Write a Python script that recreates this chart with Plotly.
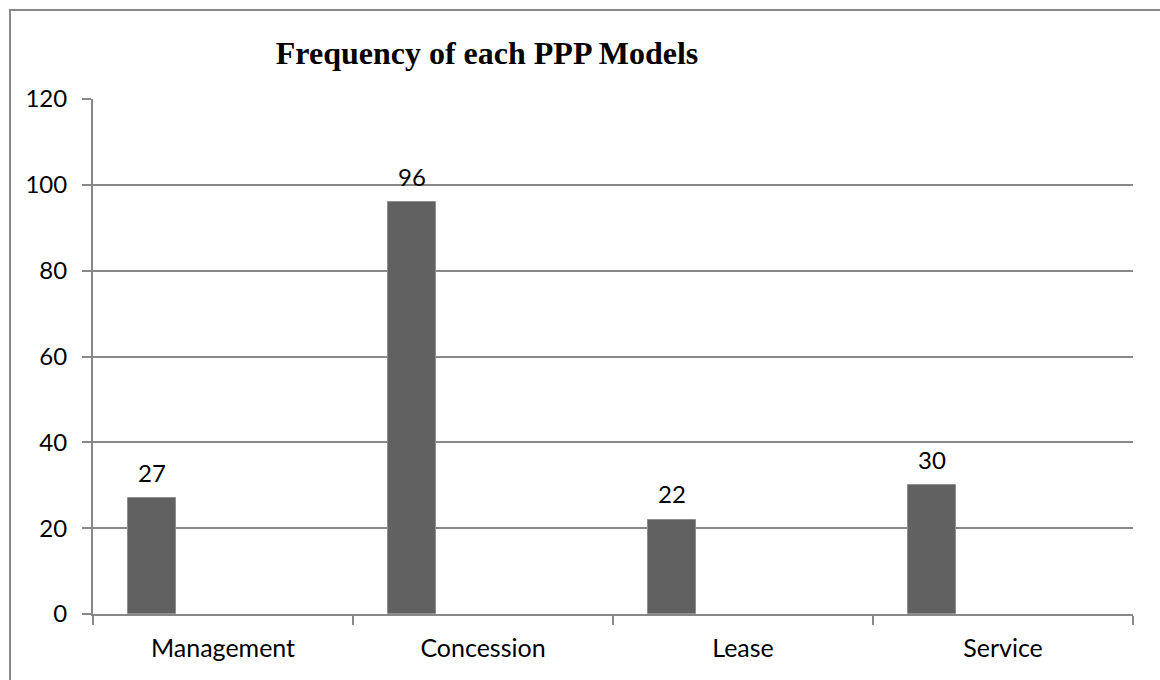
import plotly.graph_objects as go

categories = ["Management", "Concession", "Lease", "Service"]
values = [27, 96, 22, 30]
y_ticks = [0, 20, 40, 60, 80, 100, 120]
title_text = "Frequency of each PPP Models"

W, H = 1160, 680
ml, mr, mt, mb = 93, 27, 99, 66
pw, ph = W - ml - mr, H - mt - mb

bar_width = 0.185
bar_offset = -0.365
grid = "#888888"
font_fam = "Lato, 'Open Sans', sans-serif"

fig = go.Figure()
fig.add_trace(go.Bar(
    x=categories, y=values,
    width=bar_width, offset=bar_offset,
    marker=dict(color="#616161", line=dict(color="#8f8f8f", width=1)),
    showlegend=False, hoverinfo="x+y",
))

for i, v in enumerate(values):
    fig.add_annotation(
        x=i + bar_offset + bar_width / 2, y=v, xref="x", yref="y",
        text=str(v), showarrow=False, yshift=26, yanchor="middle",
        font=dict(family=font_fam, size=24, color="#000000"),
    )

fig.update_layout(
    width=W, height=H,
    margin=dict(l=ml, r=mr, t=mt, b=mb, pad=0),
    paper_bgcolor="white", plot_bgcolor="white",
    title=dict(
        text="<b>" + title_text + "</b>",
        x=487 / W, xanchor="center", xref="container",
        y=1 - 53 / H, yanchor="middle", yref="container",
        font=dict(family="'Liberation Serif', 'Times New Roman', serif", size=32, color="#000000"),
    ),
    bargap=0,
)

fig.update_xaxes(
    type="category", range=[-0.5, len(categories) - 0.5],
    showline=True, linecolor=grid, linewidth=2,
    ticks="outside", tickson="boundaries", ticklen=9, tickcolor=grid, tickwidth=2,
    showgrid=False,
    tickfont=dict(family=font_fam, size=25, color="#000000"),
    ticklabelstandoff=11,
)
fig.update_yaxes(
    range=[0, 120], tickvals=y_ticks,
    showline=True, linecolor=grid, linewidth=2,
    ticks="outside", ticklen=9, tickcolor=grid, tickwidth=2,
    showgrid=True, gridcolor=grid, gridwidth=2,
    zeroline=False,
    tickfont=dict(family=font_fam, size=24, color="#000000"),
    ticklabelstandoff=10,
)

# outer chart border (only top and left edges visible in the frame)
fig.add_shape(
    type="rect", xref="paper", yref="paper",
    x0=(10 - ml) / pw, x1=(W + 20 - ml) / pw,
    y0=-(H + 20 - mt - ph) / ph, y1=1 + (mt - 10) / ph,
    line=dict(color="#888888", width=2), fillcolor="rgba(0,0,0,0)",
    layer="below",
)

fig.write_html("out.html", config={"displayModeBar": False},
               post_script="document.body.style.margin='0';")
